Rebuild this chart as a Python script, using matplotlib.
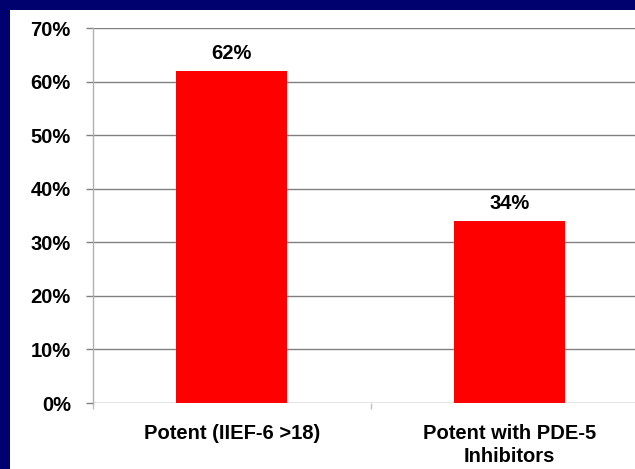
import matplotlib
matplotlib.use("Agg")
from matplotlib import pyplot as plt
from matplotlib.patches import Rectangle

categories = ["Potent (IIEF-6 >18)", "Potent with PDE-5\nInhibitors"]
values = [62, 34]
y_ticks = [0, 10, 20, 30, 40, 50, 60, 70]

plt.rcParams['font.family'] = ['Liberation Sans', 'DejaVu Sans']
plt.rcParams['font.weight'] = 'bold'

fig = plt.figure(figsize=(6.35, 4.69), dpi=100)
fig.patch.set_facecolor('#00006e')
# white slide area, navy strip only on top and left
fig.patches.append(Rectangle((10 / 635, 0), 1, 459 / 469, transform=fig.transFigure,
                             facecolor='white', edgecolor='none', zorder=-5))

ax = fig.add_axes([93 / 635, 1 - 403 / 469, 542 / 635, 375 / 469])
ax.set_facecolor('none')

x = list(range(len(categories)))
bars = ax.bar(x, values, width=0.4, color='#ff0000', zorder=3)

ax.set_ylim(0, 70)
ax.set_xlim(-0.5, 1.452)
ax.set_yticks(y_ticks)
ax.set_yticklabels([f"{v}%" for v in y_ticks], fontsize=14.5, fontweight='bold')
ax.yaxis.grid(True, color='#808080', linewidth=1.0, zorder=0)
ax.tick_params(axis='y', length=5, color='#808080', width=1.0, pad=11)

ax.set_xticks(x)
ax.set_xticklabels(categories, fontsize=14.5, fontweight='bold', linespacing=1.25)
ax.tick_params(axis='x', which='major', length=0, pad=15)
ax.set_xticks([-0.5, 0.5], minor=True)
ax.tick_params(axis='x', which='minor', length=4, color='#c0c0c0', width=1.0)

for side in ['top', 'right', 'bottom']:
    ax.spines[side].set_visible(False)
ax.spines['left'].set_color('#b0b0b0')
ax.spines['left'].set_linewidth(1.0)

for bar, v in zip(bars, values):
    ax.annotate(f"{v}%", (bar.get_x() + bar.get_width() / 2, bar.get_height()),
                xytext=(0, 6), textcoords='offset points', ha='center', va='bottom',
                fontsize=14.5, fontweight='bold')

fig.savefig("out.png", dpi=100, facecolor=fig.get_facecolor())
